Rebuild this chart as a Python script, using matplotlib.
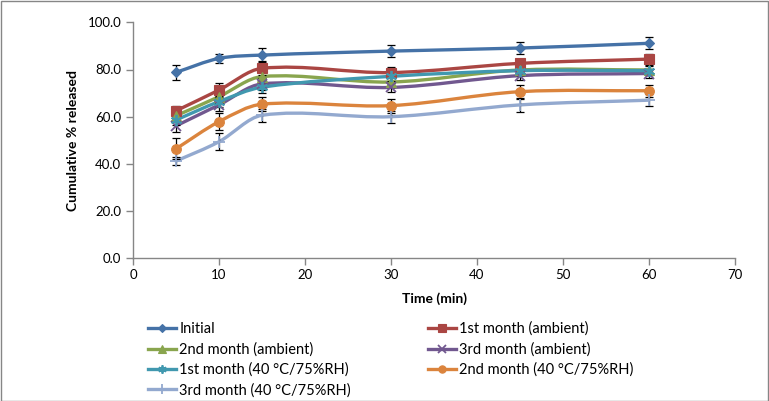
import numpy as np
import matplotlib
matplotlib.use("Agg")
import matplotlib.pyplot as plt
from matplotlib.path import Path
from matplotlib.patches import PathPatch, Rectangle
from matplotlib.lines import Line2D

plt.rcParams['font.family'] = ['Lato', 'DejaVu Sans']

time_min = [5, 10, 15, 30, 45, 60]
labels = ["Initial", "1st month (ambient)", "2nd month (ambient)", "3rd month (ambient)",
          "1st month (40 °C/75%RH)", "2nd month (40 °C/75%RH)", "3rd month (40 °C/75%RH)"]
initial = [78.8, 84.7, 86.1, 87.8, 89.1, 91.1]
m1_amb = [62.5, 71.3, 80.5, 78.7, 82.6, 84.4]
m2_amb = [60.4, 68.5, 77.0, 74.7, 79.8, 79.8]
m3_amb = [56.1, 65.0, 73.9, 72.4, 77.4, 78.3]
m1_40 = [58.6, 66.4, 72.5, 77.1, 79.5, 79.5]
m2_40 = [46.4, 57.9, 65.3, 64.7, 70.6, 71.0]
m3_40 = [41.2, 49.4, 60.6, 60.0, 65.0, 67.0]
err_initial = [3.2, 2.0, 3.0, 2.5, 2.5, 2.5]
err_m1_amb = [2.0, 3.0, 3.0, 2.5, 2.0, 2.0]
err_m2_amb = [2.0, 2.5, 2.5, 2.0, 2.0, 2.0]
err_m3_amb = [2.5, 2.5, 2.5, 2.0, 2.0, 2.0]
err_m1_40 = [2.0, 2.5, 2.5, 2.0, 2.0, 2.0]
err_m2_40 = [4.5, 3.5, 3.0, 3.0, 3.0, 2.5]
err_m3_40 = [1.8, 3.5, 2.8, 2.5, 3.0, 2.5]

series = [initial, m1_amb, m2_amb, m3_amb, m1_40, m2_40, m3_40]
errors = [err_initial, err_m1_amb, err_m2_amb, err_m3_amb, err_m1_40, err_m2_40, err_m3_40]
colors = ['#4572A7', '#AA4643', '#89A54E', '#71588F', '#4198AF', '#DB843D', '#93A9CF']
markers = ['D', 's', '^', 'x', (6, 2, 0), 'o', '+']
msizes = [5, 7, 7, 7, 8, 7, 9]

W, H = 769, 401
fig = plt.figure(figsize=(W / 100, H / 100), dpi=100)
ax = fig.add_axes([133 / W, 1 - 258.3 / H, (735 - 133) / W, (258.3 - 22.3) / H])


def smooth_path(xs, ys):
    """Smoothed line (cubic Bezier segments through the data points)."""
    x = np.asarray(xs, float)
    y = np.asarray(ys, float)
    n = len(x)
    m = np.zeros(n)
    for i in range(n):
        if i == 0:
            m[i] = (y[1] - y[0]) / (x[1] - x[0])
        elif i == n - 1:
            m[i] = (y[-1] - y[-2]) / (x[-1] - x[-2])
        else:
            m[i] = (y[i + 1] - y[i - 1]) / (x[i + 1] - x[i - 1])
    verts = [(x[0], y[0])]
    codes = [Path.MOVETO]
    for i in range(n - 1):
        h = x[i + 1] - x[i]
        verts += [(x[i] + h / 3, y[i] + m[i] * h / 3),
                  (x[i + 1] - h / 3, y[i + 1] - m[i + 1] * h / 3),
                  (x[i + 1], y[i + 1])]
        codes += [Path.CURVE4] * 3
    return Path(verts, codes)


handles = []
for ys, es, c, m, ms, lab in zip(series, errors, colors, markers, msizes, labels):
    ax.add_patch(PathPatch(smooth_path(time_min, ys), facecolor='none', edgecolor=c,
                           lw=2.4, capstyle='round', joinstyle='round', zorder=2))
    ax.errorbar(time_min, ys, yerr=es, fmt='none', ecolor='black', elinewidth=0.9,
                capsize=3, capthick=0.9, zorder=3)
    mew = 1.3 if m in ('x', '+', (6, 2, 0)) else 0.8
    ax.plot(time_min, ys, linestyle='none', marker=m, markersize=ms, color=c,
            markeredgecolor=c, markeredgewidth=mew, zorder=4)
    handles.append(Line2D([0], [0], color=c, lw=2.4, marker=m, markersize=ms * 0.75,
                          markeredgewidth=mew, label=lab))

ax.set_xlim(0, 70)
ax.set_ylim(0, 100)
ax.set_xticks(np.arange(0, 71, 10))
ax.set_yticks(np.arange(0, 101, 20))
ax.set_yticklabels([f"{v:.1f}" for v in np.arange(0, 101, 20)])
for s in ['top', 'right']:
    ax.spines[s].set_visible(False)
for s in ['left', 'bottom']:
    ax.spines[s].set_color('#868686')
    ax.spines[s].set_linewidth(1.0)
ax.tick_params(axis='both', direction='out', length=5, color='#868686', labelsize=9.5,
               labelcolor='black', width=1.0)
ax.tick_params(axis='x', pad=3)
ax.set_xlabel("Time (min)", fontsize=10, fontweight='bold', labelpad=8)
ax.set_ylabel("Cumulative % released", fontsize=10, fontweight='bold', labelpad=6)

order = [0, 2, 4, 6, 1, 3, 5]
leg = fig.legend([handles[i] for i in order], [labels[i] for i in order], ncol=2,
                 loc='upper left', bbox_to_anchor=(142 / W, 1 - 316 / H), frameon=False,
                 fontsize=10.5, handlelength=1.9, handletextpad=0.25, columnspacing=5.3,
                 labelspacing=0.42, borderaxespad=0)

fig.patches.append(Rectangle((0.5 / W, 0.5 / H), 1 - 1.5 / W, 1 - 1.5 / H,
                             transform=fig.transFigure, fill=False, edgecolor='#868686',
                             lw=1.0))
fig.savefig("out.png", dpi=100)
